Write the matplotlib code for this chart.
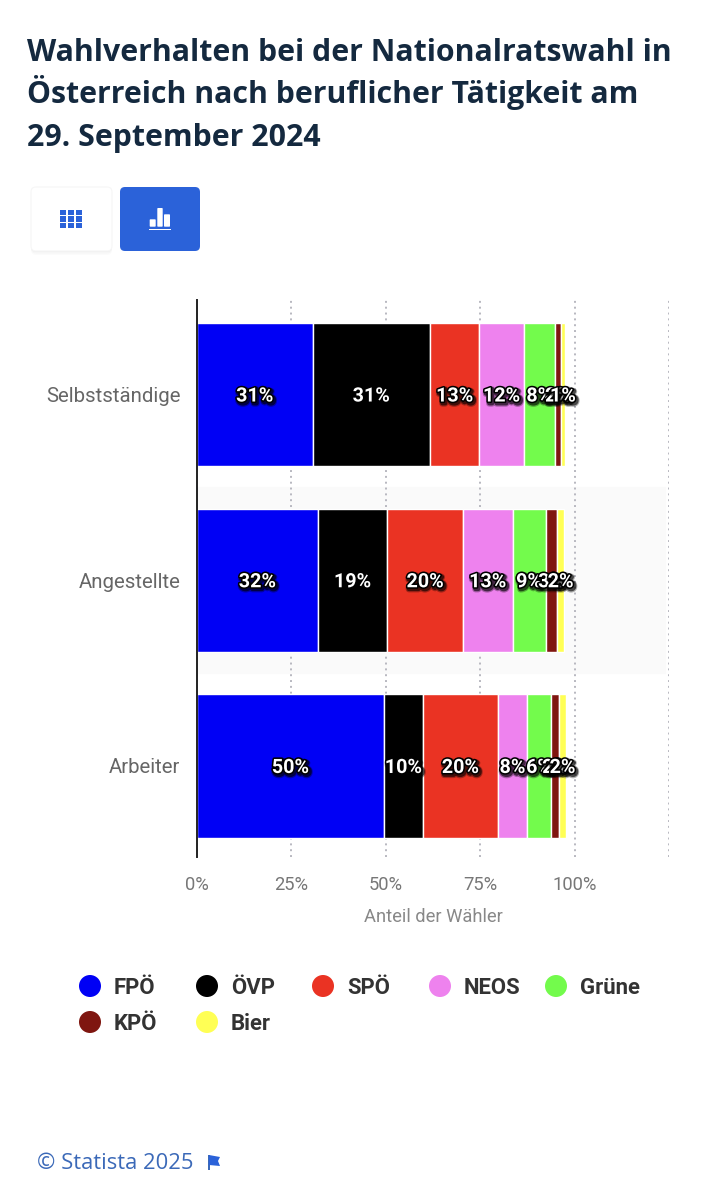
import matplotlib
matplotlib.use("Agg")
import matplotlib.pyplot as plt
import matplotlib.patheffects as pe
from matplotlib.patches import FancyBboxPatch, Rectangle, Circle, Polygon

W, H = 704, 1200

categories = ["Selbstständige", "Angestellte", "Arbeiter"]
parties = ["FPÖ", "ÖVP", "SPÖ", "NEOS", "Grüne", "KPÖ", "Bier"]
colors = ["#0000f5", "#000000", "#ea3323", "#ee82ee", "#73fb4c", "#7f1610", "#ffff55"]

fpoe = [30.6, 32.0, 49.5]
oevp = [31.1, 18.4, 10.3]
spoe = [13.1, 20.0, 19.9]
neos = [11.7, 13.2, 7.7]
gruene = [8.3, 8.7, 6.4]
kpoe = [1.6, 3.0, 2.1]
bier = [1.0, 2.0, 1.8]

fpoe_lbl = [31, 32, 50]
oevp_lbl = [31, 19, 10]
spoe_lbl = [13, 20, 20]
neos_lbl = [12, 13, 8]
gruene_lbl = [8, 9, 6]
kpoe_lbl = [2, 3, 2]
bier_lbl = [1, 2, 2]

series = [fpoe, oevp, spoe, neos, gruene, kpoe, bier]
labels = [fpoe_lbl, oevp_lbl, spoe_lbl, neos_lbl, gruene_lbl, kpoe_lbl, bier_lbl]

xticks = [0, 25, 50, 75, 100, 125]
xticklabels = ["0%", "25%", "50%", "75%", "100%", ""]

plt.rcParams["font.family"] = ["Roboto", "DejaVu Sans"]

fig = plt.figure(figsize=(W / 100, H / 100), dpi=100, facecolor="white")

# overlay in pixel coords for the page furniture
bg = fig.add_axes([0, 0, 1, 1])
bg.set_xlim(0, W)
bg.set_ylim(H, 0)
bg.axis("off")

title = "Wahlverhalten bei der Nationalratswahl in\nÖsterreich nach beruflicher Tätigkeit am\n29. September 2024"
for i, line in enumerate(title.split("\n")):
    bg.text(27, 61 + i * 42.5, line, fontsize=21.75, fontweight="bold", family="Open Sans",
            color="#14293f", va="baseline", ha="left")

# buttons
for off, a in [(4, 0.015), (2.5, 0.02), (1, 0.03)]:
    bg.add_patch(FancyBboxPatch((31, 188 + off), 81, 63, boxstyle="round,pad=0,rounding_size=5",
                                fc="black", ec="none", alpha=a))
bg.add_patch(FancyBboxPatch((31, 187), 81, 64, boxstyle="round,pad=0,rounding_size=5", fc="white", ec="#f6f6f6", lw=0.8))
bg.add_patch(FancyBboxPatch((120, 187), 80, 64, boxstyle="round,pad=0,rounding_size=5", fc="#2b62d9", ec="none"))
for gx in (60, 67.9, 75.8):
    for gy in (209.5, 216, 222.5):
        bg.add_patch(Rectangle((gx, gy), 6.4, 5.6, fc="#2b62d9", ec="none"))
for bx, by, bw in [(149.7, 219.3, 6), (157.3, 208, 5.4), (164, 214.3, 6)]:
    bg.add_patch(FancyBboxPatch((bx, by), bw, 226.7 - by, boxstyle="round,pad=0,rounding_size=0.8", fc="white", ec="none"))
bg.add_patch(Rectangle((149.3, 228.6), 22, 1.4, fc="white", ec="none"))

# chart
ax = fig.add_axes([197 / W, 1 - 857 / H, (669 - 197) / W, (857 - 300) / H], zorder=2)
ax.patch.set_alpha(0)
ax.set_xlim(0, 125)
ax.set_ylim(2.49, -0.509)
ax.axhspan(0.5, 1.5, xmin=0, xmax=0.992, color="#fafafa", zorder=0)
ax.set_xticks(xticks)
ax.set_xticklabels(xticklabels, fontsize=13.2, color="#777777")
ax.set_yticks(range(len(categories)))
ax.set_yticklabels(categories, fontsize=14.7, color="#666666")
ax.tick_params(axis="x", length=0, pad=14)
ax.tick_params(axis="y", length=0, pad=12)
ax.grid(axis="x", color="#b8b8c0", linestyle=(0, (1, 2)), linewidth=1.4, zorder=1)
ax.set_axisbelow(True)
for s in ["top", "right", "bottom"]:
    ax.spines[s].set_visible(False)
ax.spines["left"].set_color("#222222")
ax.spines["left"].set_linewidth(1.4)
ax.set_xlabel("Anteil der Wähler", fontsize=13.2, color="#888888")
ax.xaxis.set_label_coords((433 - 197) / (669 - 197), -(917 - 857) / (857 - 300), transform=ax.transAxes)
ax.xaxis.label.set_va("center")

left = [0.0, 0.0, 0.0]
effects = [pe.SimpleLineShadow(offset=(1, -1.4), shadow_color="black", alpha=0.3, linewidth=4.6),
           pe.SimpleLineShadow(offset=(1, -1.2), shadow_color="black", alpha=0.6, linewidth=3.2),
           pe.withStroke(linewidth=2.2, foreground="black")]
for name, vals, lbls, c in zip(parties, series, labels, colors):
    ax.barh(range(3), vals, left=left, height=0.772, color=c, edgecolor="white", linewidth=1, label=name, zorder=2)
    for i in range(3):
        ax.text(left[i] + vals[i] / 2, i + 0.008, f"{lbls[i]}%", ha="center", va="center", color="white",
                fontsize=14.2, fontweight="bold", path_effects=effects, zorder=5)
        left[i] += vals[i]

# legend
leg_x = [90, 207, 323, 440, 556, 90, 207]
leg_y = [987, 987, 987, 987, 987, 1023, 1023]
for name, c, lx, ly in zip(parties, colors, leg_x, leg_y):
    bg.add_patch(Circle((lx, ly - 1), 11, fc=c, ec="none"))
    bg.text(lx + 24, ly + 1.5, name, fontsize=15.9, fontweight="bold", color="#333333", va="center", ha="left")

# footer
bg.text(37, 1163.5, "© Statista 2025", fontsize=15.8, family="Open Sans", color="#3b69b8", va="center", ha="left")
bg.add_patch(Rectangle((208, 1155), 1.6, 15, fc="#3b69b8", ec="none"))
bg.add_patch(Polygon([(209, 1155), (220, 1157), (218, 1161), (220, 1166), (209, 1165)], fc="#2b62d9", ec="none"))

fig.savefig("out.png", dpi=100)
